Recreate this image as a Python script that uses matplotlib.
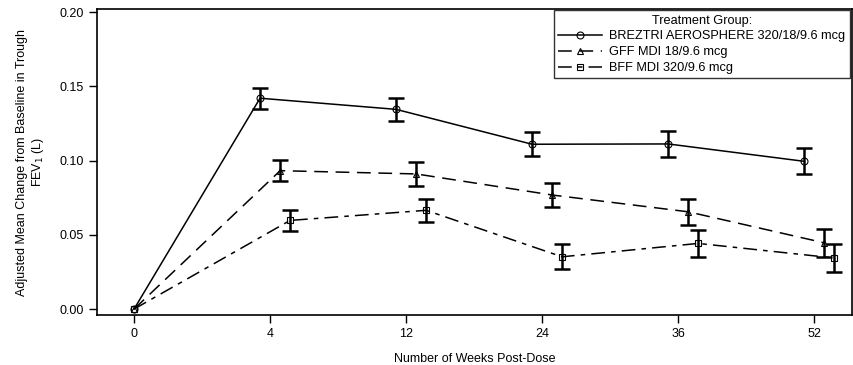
import numpy as np
import matplotlib
matplotlib.use("Agg")
import matplotlib.pyplot as plt

plt.rcParams['font.family'] = ['Liberation Sans', 'DejaVu Sans']

# data
weeks = ["0", "4", "12", "24", "36", "52"]

breztri = [0.0, 0.142, 0.1345, 0.111, 0.1112, 0.0995]
breztri_err = [0.0, 0.007, 0.0077, 0.008, 0.0085, 0.0087]

gff = [0.0, 0.0932, 0.0910, 0.0768, 0.0655, 0.0446]
gff_err = [0.0, 0.0069, 0.0079, 0.0083, 0.0088, 0.0093]

bff = [0.0, 0.0597, 0.0665, 0.0352, 0.0442, 0.0344]
bff_err = [0.0, 0.0069, 0.0079, 0.0084, 0.0091, 0.0092]

labels = ["BREZTRI AEROSPHERE 320/18/9.6 mcg", "GFF MDI 18/9.6 mcg", "BFF MDI 320/9.6 mcg"]

fig = plt.figure(figsize=(8.54, 3.65), dpi=100)
ax = fig.add_axes([0.114, 0.137, 0.884, 0.838])

pos = np.arange(len(weeks))

# small horizontal offsets so the error bars don't overlap (none at week 0)
def shifted(off):
    x = pos + off
    x[0] = 0
    return x

series = [
    (breztri, breztri_err, -0.074, 'o', '-'),
    (gff, gff_err, 0.074, '^', (0, (9, 5))),
    (bff, bff_err, 0.147, 's', (0, (9, 4, 3, 4))),
]

for (vals, errs, off, mk, ls), lab in zip(series, labels):
    x = shifted(off)
    ax.plot(x, vals, color='black', linestyle=ls, linewidth=1.1, marker=mk,
            markersize=5, markerfacecolor='none', markeredgewidth=0.8, label=lab)
    ax.errorbar(x[1:], vals[1:], yerr=errs[1:], fmt='none', ecolor='black',
                elinewidth=1.8, capsize=6, capthick=1.8)

ax.set_xlim(-0.27, 5.28)
ax.set_ylim(-0.004, 0.202)
ax.set_xticks(pos)
ax.set_xticklabels(weeks)
ax.set_yticks([0.0, 0.05, 0.10, 0.15, 0.20])
ax.set_yticklabels(["0.00", "0.05", "0.10", "0.15", "0.20"])
ax.tick_params(labelsize=9, length=6, width=1, direction='out')
for s in ax.spines.values():
    s.set_linewidth(1.2)

ax.set_xlabel("Number of Weeks Post-Dose", fontsize=9, labelpad=9)
ax.set_ylabel("Adjusted Mean Change from Baseline in Trough\nFEV$_1$ (L)", fontsize=9, labelpad=10)

leg = ax.legend(title="Treatment Group:", loc='upper right', fontsize=9.2, title_fontsize=9.2,
                frameon=True, fancybox=False, edgecolor='black', handlelength=3.4,
                borderpad=0.35, labelspacing=0.3, handletextpad=0.6, borderaxespad=0,
                bbox_to_anchor=(0.997, 0.997))
leg.get_frame().set_linewidth(1.0)

fig.savefig("out.png", dpi=100)
